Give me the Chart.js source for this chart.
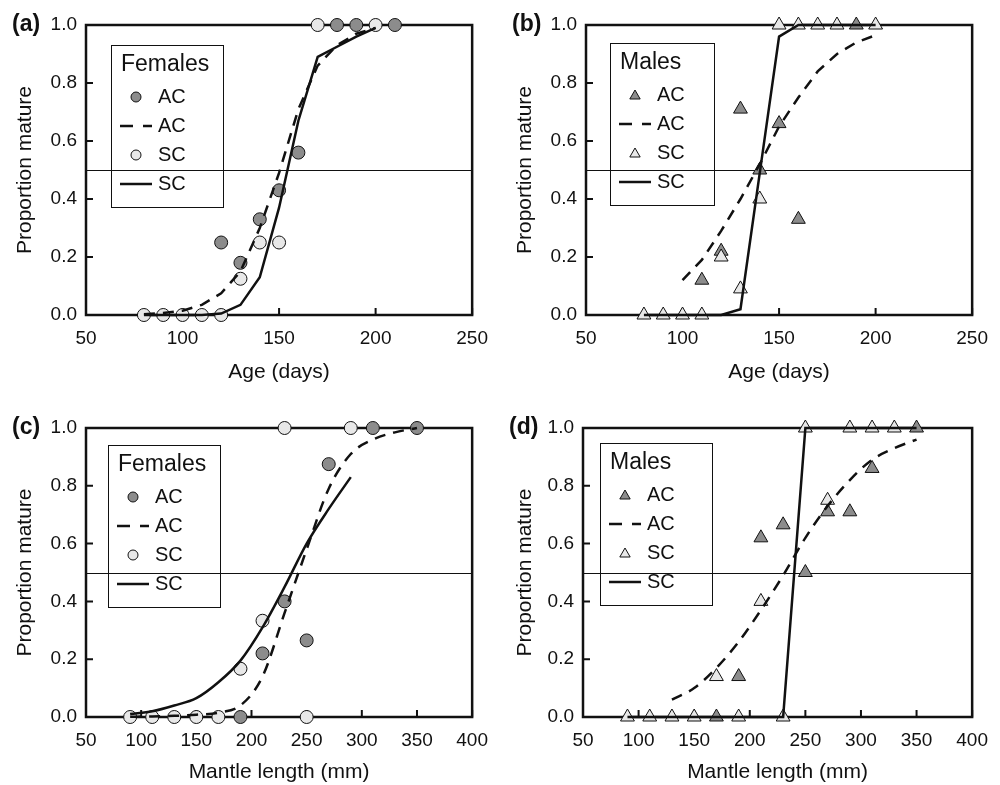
<!DOCTYPE html>
<html>
<head>
<meta charset="utf-8">
<title>Proportion mature</title>
<script src="https://cdn.jsdelivr.net/npm/chart.js@4/dist/chart.umd.min.js"></script>
<style>
  html, body { margin: 0; padding: 0; background: #fff; }
  #page { position: relative; width: 1000px; height: 785px; overflow: hidden; }
  .panel { position: absolute; width: 500px; }
</style>
</head>
<body>
<div id="page">
  <div class="panel" style="left:0;top:0;height:395px"><canvas id="ca"></canvas></div>
  <div class="panel" style="left:500px;top:0;height:395px"><canvas id="cb"></canvas></div>
  <div class="panel" style="left:0;top:397px;height:388px"><canvas id="cc"></canvas></div>
  <div class="panel" style="left:500px;top:397px;height:388px"><canvas id="cd"></canvas></div>
</div>
<script>
// (a) females, age
var femAgeAcX = [120, 130, 140, 150, 160, 180, 190, 210];
var femAgeAcY = [0.25, 0.18, 0.33, 0.43, 0.56, 1, 1, 1];
var femAgeScX = [80, 90, 100, 110, 120, 130, 140, 150, 170, 200];
var femAgeScY = [0, 0, 0, 0, 0, 0.125, 0.25, 0.25, 1, 1];
var femAgeFitX = [80, 90, 100, 110, 120, 130, 140, 150, 160, 170, 180, 190, 200];
var femAgeAcFit = [0.003, 0.007, 0.015, 0.035, 0.075, 0.15, 0.3, 0.49, 0.71, 0.86, 0.93, 0.97, 0.99];
var femAgeScFit = [0, 0, 0, 0, 0.005, 0.035, 0.13, 0.37, 0.67, 0.89, 0.925, 0.96, 0.99];

// (b) males, age
var maleAgeAcX = [110, 120, 130, 140, 150, 160, 190];
var maleAgeAcY = [0.12, 0.22, 0.71, 0.5, 0.66, 0.33, 1];
var maleAgeScX = [80, 90, 100, 110, 120, 130, 140, 150, 160, 170, 180, 200];
var maleAgeScY = [0, 0, 0, 0, 0.2, 0.09, 0.4, 1, 1, 1, 1, 1];
var maleAgeAcFitX = [100, 110, 120, 130, 140, 150, 160, 170, 180, 190, 200];
var maleAgeAcFit = [0.12, 0.19, 0.29, 0.4, 0.52, 0.65, 0.75, 0.84, 0.9, 0.94, 0.965];
var maleAgeScFitX = [80, 90, 100, 110, 120, 130, 140, 150, 160, 170, 180, 190, 200];
var maleAgeScFit = [0, 0, 0, 0, 0, 0.02, 0.49, 0.96, 1, 1, 1, 1, 1];

// (c) females, mantle length
var femMlAcX = [190, 210, 230, 250, 270, 310, 350];
var femMlAcY = [0, 0.22, 0.4, 0.265, 0.875, 1, 1];
var femMlScX = [90, 110, 130, 150, 170, 190, 210, 230, 250, 290];
var femMlScY = [0, 0, 0, 0, 0, 0.167, 0.333, 1, 0, 1];
var femMlAcFitX = [90, 110, 130, 150, 170, 190, 210, 230, 250, 270, 290, 310, 330, 350];
var femMlAcFit = [0.001, 0.002, 0.004, 0.008, 0.015, 0.04, 0.14, 0.36, 0.58, 0.79, 0.91, 0.96, 0.985, 1];
var femMlScFitX = [90, 110, 130, 150, 170, 190, 210, 230, 250, 270, 290];
var femMlScFit = [0.01, 0.02, 0.04, 0.065, 0.12, 0.195, 0.31, 0.45, 0.6, 0.72, 0.83];

// (d) males, mantle length
var maleMlAcX = [170, 190, 210, 230, 250, 270, 290, 310, 350];
var maleMlAcY = [0, 0.14, 0.62, 0.665, 0.5, 0.71, 0.71, 0.86, 1];
var maleMlScX = [90, 110, 130, 150, 170, 190, 210, 230, 250, 270, 290, 310, 330];
var maleMlScY = [0, 0, 0, 0, 0.14, 0, 0.4, 0, 1, 0.75, 1, 1, 1];
var maleMlAcFitX = [130, 150, 170, 190, 210, 230, 250, 270, 290, 310, 330, 350];
var maleMlAcFit = [0.06, 0.1, 0.17, 0.26, 0.37, 0.49, 0.62, 0.73, 0.82, 0.89, 0.93, 0.96];
var maleMlScFitX = [90, 110, 130, 150, 170, 190, 210, 230, 250, 270, 290, 310, 330, 350];
var maleMlScFit = [0, 0, 0, 0, 0, 0, 0, 0, 1, 1, 1, 1, 1, 1];

var yTicks = ['0.0', '0.2', '0.4', '0.6', '0.8', '1.0'];

var FONT = '"Liberation Sans", Arial, Helvetica, sans-serif';
var INK = '#111';
var GRAY = '#8c8c8c';
var LIGHT = '#e8e8e8';

Chart.defaults.font.family = FONT;
Chart.defaults.color = INK;

function zip(xs, ys) {
  return xs.map(function (x, i) { return { x: x, y: ys[i] }; });
}

function markerPath(ctx, style, x, y, r) {
  ctx.beginPath();
  if (style === 'triangle') {
    for (var k = 0; k < 3; k++) {
      var a = k * 2 * Math.PI / 3;
      var px = x + Math.sin(a) * r, py = y - Math.cos(a) * r;
      if (k) ctx.lineTo(px, py); else ctx.moveTo(px, py);
    }
    ctx.closePath();
  } else {
    ctx.arc(x, y, r, 0, 2 * Math.PI);
  }
}

// box, inward ticks, 50% line, panel tag and the legend
var framePlugin = {
  id: 'frame',
  beforeDatasetsDraw: function (chart, args, opts) {
    var ctx = chart.ctx, a = chart.chartArea, x = chart.scales.x, y = chart.scales.y;
    ctx.save();
    ctx.strokeStyle = INK;
    ctx.lineWidth = 1;
    var yh = Math.round(y.getPixelForValue(0.5)) + 0.5;
    ctx.beginPath();
    ctx.moveTo(a.left, yh);
    ctx.lineTo(a.right, yh);
    ctx.stroke();

    ctx.lineWidth = 2;
    ctx.beginPath();
    x.ticks.forEach(function (t) {
      var px = x.getPixelForValue(t.value);
      ctx.moveTo(px, a.bottom);
      ctx.lineTo(px, a.bottom - 7);
    });
    y.ticks.forEach(function (t) {
      var py = y.getPixelForValue(t.value);
      ctx.moveTo(a.left, py);
      ctx.lineTo(a.left + 7, py);
    });
    ctx.stroke();

    ctx.lineWidth = 2.5;
    ctx.strokeRect(a.left, a.top, a.right - a.left, a.bottom - a.top);
    ctx.restore();
  },
  afterDraw: function (chart, args, opts) {
    var ctx = chart.ctx, a = chart.chartArea;
    ctx.save();
    ctx.fillStyle = INK;
    ctx.strokeStyle = INK;
    ctx.textBaseline = 'middle';
    ctx.font = 'bold 23px ' + FONT;
    ctx.fillText(opts.tag, a.left - 74, a.top);

    var bx = a.left + opts.boxX, by = a.top + opts.boxY;
    ctx.lineWidth = 1;
    ctx.strokeRect(bx + 0.5, by + 0.5, opts.boxW, 162);
    ctx.font = '23px ' + FONT;
    ctx.fillText(opts.title, bx + 10, by + 20);

    ctx.font = '20px ' + FONT;
    var rows = [52, 81, 110, 139];
    chart.data.datasets.forEach(function (ds, i) {
      var ry = by + rows[i];
      if (ds.showLine) {
        ctx.save();
        ctx.lineWidth = ds.borderWidth;
        ctx.setLineDash(ds.borderDash ? [13, 10] : []);
        ctx.beginPath();
        ctx.moveTo(bx + 9, ry);
        ctx.lineTo(bx + 41, ry);
        ctx.stroke();
        ctx.restore();
      } else {
        markerPath(ctx, ds.pointStyle, bx + 25, ry + (ds.pointStyle === 'triangle' ? 1 : 0),
          ds.pointStyle === 'triangle' ? 6 : 5);
        ctx.fillStyle = ds.backgroundColor;
        ctx.fill();
        ctx.lineWidth = 1;
        ctx.stroke();
        ctx.fillStyle = INK;
      }
      ctx.fillText(ds.label, bx + 47, ry);
    });
    ctx.restore();
  }
};

function makePanel(id, p) {
  var r = p.marker === 'triangle' ? 8 : 6.5;
  new Chart(document.getElementById(id), {
    type: 'scatter',
    data: {
      datasets: [
        { label: 'AC', data: zip(p.acX, p.acY), pointStyle: p.marker, pointRadius: r,
          backgroundColor: GRAY, borderColor: INK, borderWidth: 1, order: 2 },
        { label: 'AC', data: zip(p.acFitX, p.acFit), showLine: true, pointRadius: 0,
          borderColor: INK, borderWidth: 2.5, borderDash: [11, 8],
          cubicInterpolationMode: p.smoothAc ? 'monotone' : 'default', order: 0 },
        { label: 'SC', data: zip(p.scX, p.scY), pointStyle: p.marker, pointRadius: r,
          backgroundColor: LIGHT, borderColor: INK, borderWidth: 1, order: 1 },
        { label: 'SC', data: zip(p.scFitX, p.scFit), showLine: true, pointRadius: 0,
          borderColor: INK, borderWidth: 2.5,
          cubicInterpolationMode: p.smoothSc ? 'monotone' : 'default', order: 0 }
      ]
    },
    options: {
      responsive: true,
      maintainAspectRatio: false,
      animation: false,
      devicePixelRatio: 1,
      datasets: { scatter: { clip: false } },
      layout: { padding: { top: p.top, right: 500 - p.right, left: 0, bottom: 0 } },
      plugins: {
        legend: { display: false },
        tooltip: { enabled: false },
        frame: { tag: p.tag, title: p.title, boxX: p.boxX, boxY: p.boxY, boxW: p.boxW }
      },
      scales: {
        x: {
          type: 'linear', min: 50, max: p.xMax,
          afterFit: function (s) { s.height = p.xAxisH; },
          grid: { display: false, drawTicks: false },
          border: { display: false },
          ticks: { stepSize: 50, padding: 12, autoSkip: false, maxRotation: 0, color: INK, font: { size: 19 } },
          title: { display: true, text: p.xTitle, color: INK, font: { size: 21 }, padding: { top: 0, bottom: p.titlePad } }
        },
        y: {
          min: 0, max: 1,
          afterFit: function (s) { s.width = p.left; },
          grid: { display: false, drawTicks: false },
          border: { display: false },
          ticks: { stepSize: 0.2, padding: 9, color: INK, font: { size: 19 },
            callback: function (v) { return yTicks[Math.round(v * 5)]; } },
          title: { display: true, text: 'Proportion mature', color: INK, font: { size: 21 }, padding: { top: 13, bottom: 0 } }
        }
      }
    },
    plugins: [framePlugin]
  });
}

makePanel('ca', {
  tag: '(a)', title: 'Females', marker: 'circle', xTitle: 'Age (days)', xMax: 250,
  acX: femAgeAcX, acY: femAgeAcY, scX: femAgeScX, scY: femAgeScY,
  acFitX: femAgeFitX, acFit: femAgeAcFit, scFitX: femAgeFitX, scFit: femAgeScFit,
  left: 86, right: 475, top: 25, xAxisH: 80, titlePad: 10, boxX: 25, boxY: 20, boxW: 112
});
makePanel('cb', {
  tag: '(b)', title: 'Males', marker: 'triangle', xTitle: 'Age (days)', xMax: 250,
  acX: maleAgeAcX, acY: maleAgeAcY, scX: maleAgeScX, scY: maleAgeScY,
  acFitX: maleAgeAcFitX, acFit: maleAgeAcFit, scFitX: maleAgeScFitX, scFit: maleAgeScFit,
  left: 86, right: 475, top: 25, xAxisH: 80, titlePad: 10, boxX: 24, boxY: 18, boxW: 104
});
makePanel('cc', {
  tag: '(c)', title: 'Females', marker: 'circle', xTitle: 'Mantle length (mm)', xMax: 400,
  smoothAc: true, smoothSc: true,
  acX: femMlAcX, acY: femMlAcY, scX: femMlScX, scY: femMlScY,
  acFitX: femMlAcFitX, acFit: femMlAcFit, scFitX: femMlScFitX, scFit: femMlScFit,
  left: 86, right: 475, top: 31, xAxisH: 68, titlePad: 0, boxX: 22, boxY: 17, boxW: 112
});
makePanel('cd', {
  tag: '(d)', title: 'Males', marker: 'triangle', xTitle: 'Mantle length (mm)', xMax: 400,
  smoothAc: true,
  acX: maleMlAcX, acY: maleMlAcY, scX: maleMlScX, scY: maleMlScY,
  acFitX: maleMlAcFitX, acFit: maleMlAcFit, scFitX: maleMlScFitX, scFit: maleMlScFit,
  left: 83, right: 474, top: 31, xAxisH: 68, titlePad: 0, boxX: 17, boxY: 15, boxW: 112
});
</script>
</body>
</html>
